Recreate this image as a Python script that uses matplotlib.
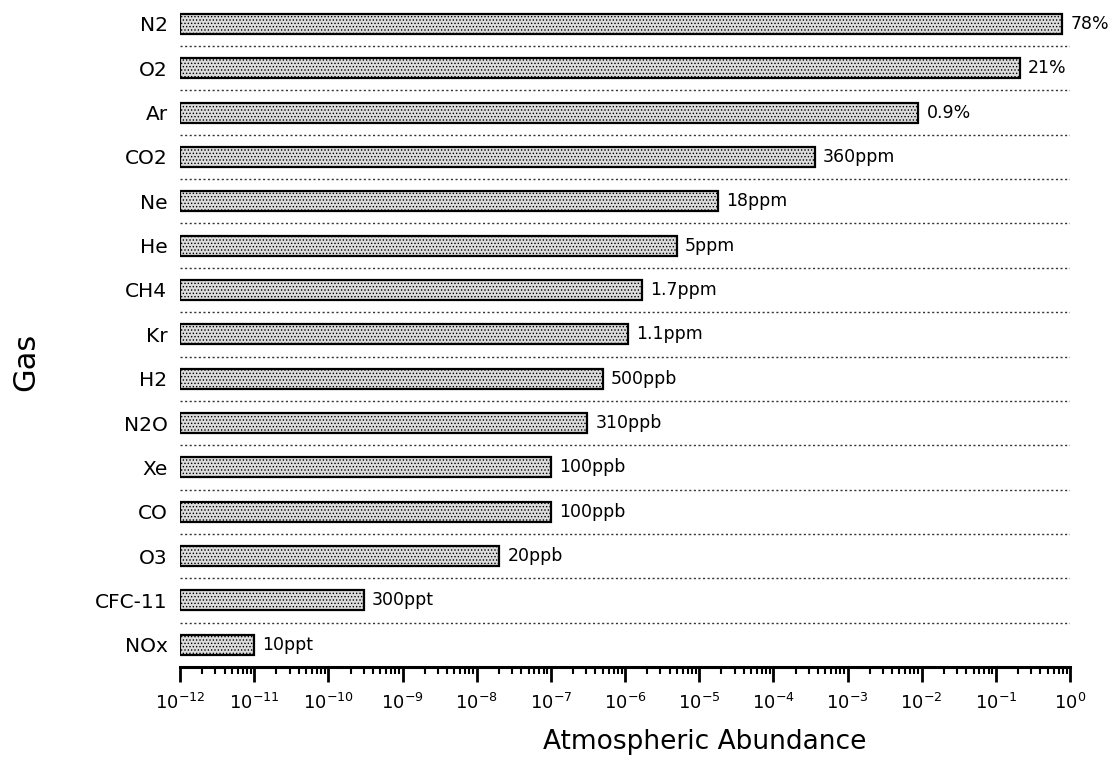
import matplotlib.pyplot as plt
import matplotlib.ticker as ticker
import numpy as np

gases = ["N2", "O2", "Ar", "CO2", "Ne", "He", "CH4", "Kr", "H2", "N2O",
         "Xe", "CO", "O3", "CFC-11", "NOx"]
abundance = [0.78, 0.21, 0.009, 360e-6, 18e-6, 5e-6, 1.7e-6, 1.1e-6, 500e-9,
             310e-9, 100e-9, 100e-9, 20e-9, 300e-12, 10e-12]
value_labels = ["78%", "21%", "0.9%", "360ppm", "18ppm", "5ppm", "1.7ppm",
                "1.1ppm", "500ppb", "310ppb", "100ppb", "100ppb", "20ppb",
                "300ppt", "10ppt"]


def main():
    plt.rcParams['font.family'] = ['DejaVu Sans']
    plt.rcParams['mathtext.default'] = 'regular'
    plt.rcParams['hatch.color'] = '#9a9a9a'
    plt.rcParams['hatch.linewidth'] = 0.6

    fig = plt.figure(figsize=(11.17, 7.77), dpi=100)
    ax = fig.add_axes([180 / 1117, 1 - 667 / 777, 890 / 1117, 664 / 777])

    n = len(gases)
    y = np.arange(n)[::-1]
    left = 1e-12

    widths = [a - left for a in abundance]
    ax.barh(y, widths, left=left, height=0.45, color='#dcdcdc',
            edgecolor='black', linewidth=1.6, hatch='.....')

    # dotted separators between rows
    for yy in y[:-1]:
        ax.plot([1e-12, 1.0], [yy - 0.5, yy - 0.5], linestyle=(0, (1.5, 1.8)),
                color='#333333', linewidth=1.0, zorder=0)

    for yy, a, lab in zip(y, abundance, value_labels):
        ax.annotate(lab, (a, yy), xytext=(6, 0), textcoords='offset points',
                    va='center', ha='left', fontsize=12.5)

    ax.set_xscale('log')
    ax.set_xlim(1e-12, 1.0)
    ax.set_ylim(-0.5, n - 1 + 0.47)

    ax.xaxis.set_major_locator(ticker.LogLocator(base=10, numticks=20))
    ax.xaxis.set_minor_locator(ticker.LogLocator(base=10, subs=np.arange(2, 10),
                                                 numticks=20))
    ax.xaxis.set_minor_formatter(ticker.NullFormatter())
    ax.tick_params(axis='x', which='major', direction='out', length=11,
                   width=2, labelsize=13, pad=8)
    ax.tick_params(axis='x', which='minor', direction='out', length=5, width=1.5)

    ax.set_yticks(y)
    ax.set_yticklabels(gases, fontsize=14.5)
    ax.tick_params(axis='y', length=0, pad=9)

    for side in ['top', 'right', 'left']:
        ax.spines[side].set_visible(False)
    ax.spines['bottom'].set_linewidth(2.2)

    ax.set_xlabel('Atmospheric Abundance', fontsize=19)
    ax.xaxis.set_label_coords(0.589, -0.094)
    ax.set_ylabel('Gas', fontsize=22)
    ax.yaxis.set_label_coords(-0.157, 0.459)

    fig.savefig('out.png', dpi=100)


if __name__ == "__main__":
    main()
